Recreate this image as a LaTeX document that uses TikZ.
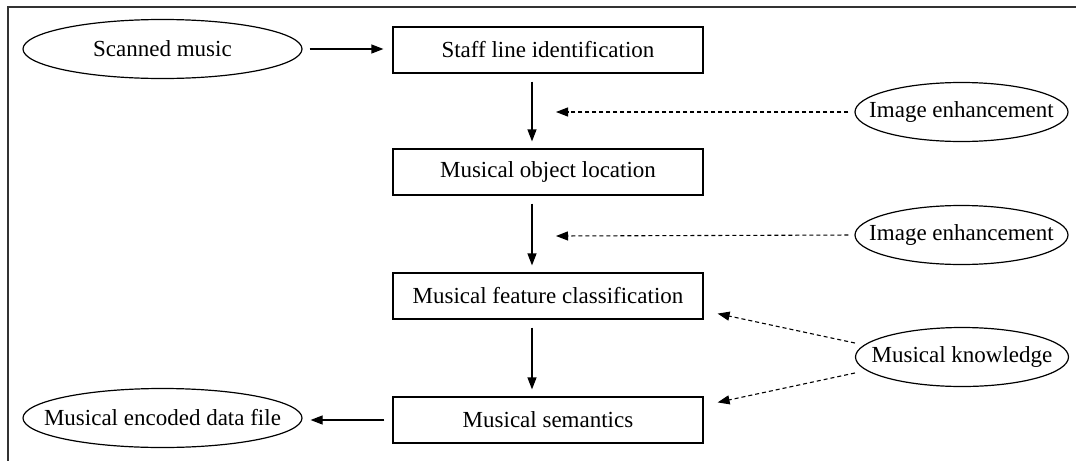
\documentclass[tikz,border=0pt]{standalone}
\usepackage{fontspec}
\setmainfont{Liberation Serif}
\usetikzlibrary{shapes.geometric,arrows.meta}
% zero-width content so that an ellipse keeps its given size
\newcommand{\flatlabel}[1]{\makebox[0pt]{#1}}
\begin{document}
\begin{tikzpicture}[x=1pt,y=-1pt,
  every node/.style={font=\fontsize{23}{27}\selectfont},
  stagebox/.style={draw,line width=1.2pt,rectangle,minimum width=310pt,minimum height=46pt,inner sep=0pt},
  widedata/.style={draw,line width=1.2pt,ellipse,minimum width=279pt,minimum height=59pt,inner sep=0pt},
  aidnode/.style={draw,line width=1.2pt,ellipse,minimum width=213pt,minimum height=59pt,inner sep=0pt},
  flow/.style={line width=1.2pt,-{Triangle[length=12pt,width=9pt]}},
  aid/.style={line width=1.1pt,dash pattern=on 4pt off 3pt,-{Triangle[length=12pt,width=9pt]}}]
\useasboundingbox (0,0) rectangle (1076,461);
% open frame: top and left edges only
\draw[line width=1.2pt,black!80] (1076,7) -- (8,7) -- (8,461);

% processing stages
\node[stagebox] (staff) at (548,50) {Staff line identification};
\node[stagebox] (locate) at (548,172) {Musical object location};
\node[stagebox] (classify) at (548,296) {Musical feature classification};
\node[stagebox] (semantics) at (548,420) {Musical semantics};

% input and output
\node[widedata] (scan) at (162.5,49) {\flatlabel{Scanned music}};
\node[widedata] (encoded) at (162.5,418) {\flatlabel{Musical encoded data file}};

% supporting knowledge
\node[aidnode] (enh1) at (961.5,112) {\flatlabel{Image enhancement}};
\node[aidnode] (enh2) at (961.5,235) {\flatlabel{Image enhancement}};
\node[aidnode] (know) at (962,357) {\flatlabel{Musical knowledge}};

\coordinate (tip1) at (556,112);
\coordinate (tip2) at (556,236);

% main flow
\draw[flow,shorten <=7pt,shorten >=9pt] (scan.east) -- (staff.west |- scan.east);
\draw[flow,shorten <=8pt,shorten >=7pt] ([xshift=-16pt]staff.south) -- ([xshift=-16pt]locate.north);
\draw[flow,shorten <=8pt,shorten >=7pt] ([xshift=-16pt]locate.south) -- ([xshift=-16pt]classify.north);
\draw[flow,shorten <=8pt,shorten >=7pt] ([xshift=-16pt]classify.south) -- ([xshift=-16pt]semantics.north);
\draw[flow,shorten <=8pt,shorten >=8pt] (semantics.west) -- (encoded.east |- semantics.west);

% dotted support arrows
\draw[aid,shorten <=6pt] (enh1.west) -- (tip1);
\draw[aid,shorten <=6pt] (enh2.west) -- (tip2);
\draw[aid] ([yshift=14pt]know.west) -- ([shift={(14pt,6pt)}]classify.south east);
\draw[aid] ([yshift=-16pt]know.west) -- ([shift={(14pt,-6pt)}]semantics.north east);
\end{tikzpicture}
\end{document}
